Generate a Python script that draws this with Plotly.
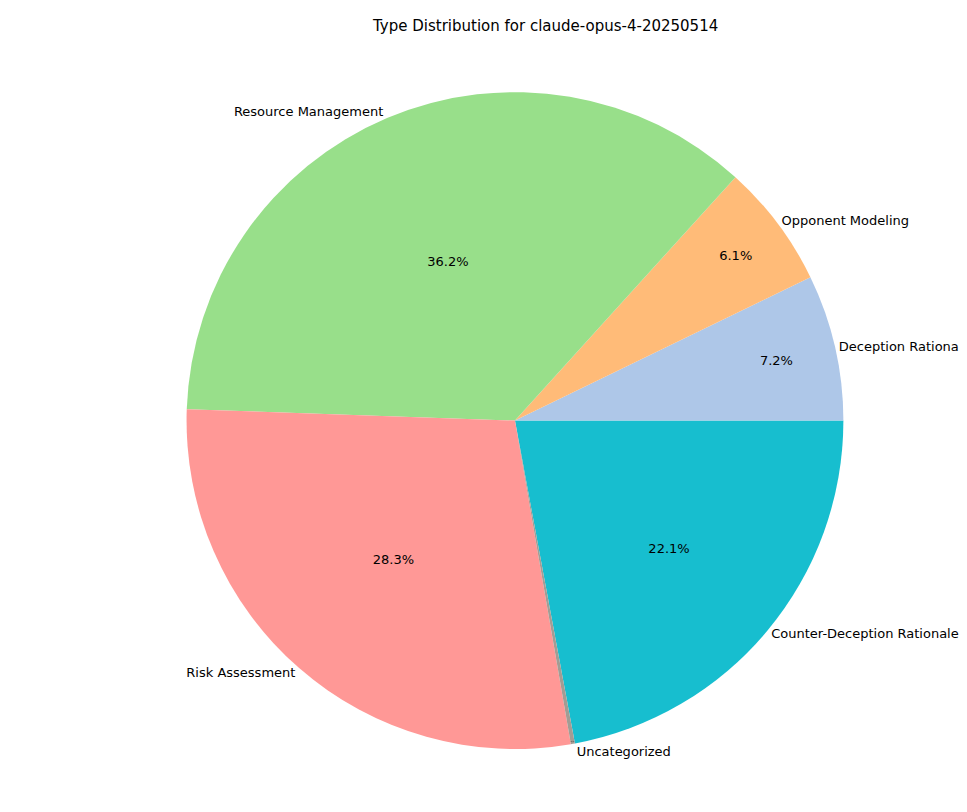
import plotly.graph_objects as go

labels = ["Counter-Deception Rationale", "Deception Rationale", "Opponent Modeling",
          "Resource Management", "Risk Assessment", "Uncategorized"]
values = [22.1, 7.2, 6.1, 36.2, 28.3, 0.2]
colors = ["#17becf", "#aec7e8", "#ffbb78", "#98df8a", "#ff9896", "#a39c94"]

dom = dict(x=[0.196, 0.917], y=[0.045, 0.93])
fig = go.Figure()
fig.add_trace(go.Pie(labels=labels, values=values, sort=False, direction="counterclockwise",
                     rotation=90, domain=dom, marker=dict(colors=colors, line=dict(width=0)),
                     texttemplate="%{value:.1f}%", textposition="inside",
                     insidetextorientation="horizontal",
                     textfont=dict(size=13, color="black", family="DejaVu Sans"),
                     hoverinfo="label+percent", showlegend=False))
fig.add_trace(go.Pie(labels=labels, values=values, sort=False, direction="counterclockwise",
                     rotation=90, domain=dom, marker=dict(colors=["rgba(0,0,0,0)"] * 6, line=dict(width=0)),
                     texttemplate="%{label}", textposition="outside",
                     textfont=dict(size=13, color="black", family="DejaVu Sans"),
                     hoverinfo="skip", showlegend=False))
fig.update_layout(width=967, height=812, margin=dict(l=0, r=0, t=0, b=0),
                  paper_bgcolor="white",
                  title=dict(text="Type Distribution for claude-opus-4-20250514", x=0.556, y=0.985,
                             xanchor="center", font=dict(size=15, color="black", family="DejaVu Sans")))
fig.write_html("out.html")
